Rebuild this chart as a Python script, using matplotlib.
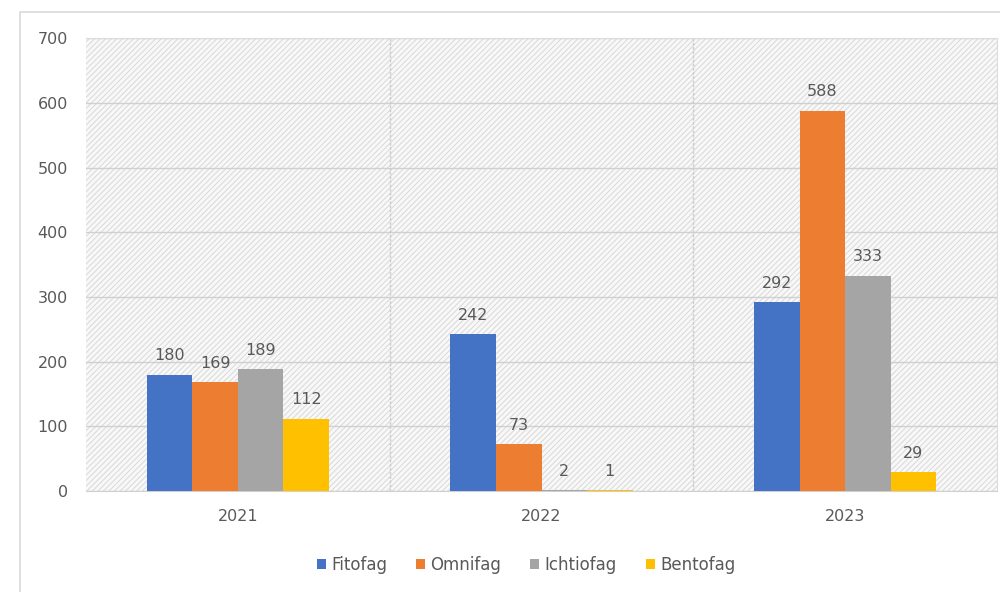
import matplotlib
matplotlib.use("Agg")
import matplotlib.pyplot as plt
from matplotlib.patches import Rectangle
import numpy as np

years = ["2021", "2022", "2023"]
series = ["Fitofag", "Omnifag", "Ichtiofag", "Bentofag"]
fitofag = [180, 242, 292]
omnifag = [169, 73, 588]
ichtiofag = [189, 2, 333]
bentofag = [112, 1, 29]
values = [fitofag, omnifag, ichtiofag, bentofag]
colors = ["#4472C4", "#ED7D31", "#A5A5A5", "#FFC000"]

plt.rcParams['font.family'] = ['DejaVu Sans']
plt.rcParams['hatch.linewidth'] = 0.7
plt.rcParams['hatch.color'] = '#d8d8d8'
txt = '#595959'

fig = plt.figure(figsize=(10, 5.92), dpi=100)
# outer chart border
fig.patches.append(Rectangle((0.020, -0.01), 1.0, 0.99, transform=fig.transFigure,
                             fill=False, edgecolor='#d9d9d9', linewidth=1.2))
ax = fig.add_axes([0.086, 0.1706, 0.911, 0.765])
ax.set_xlim(-0.5, 2.5)
ax.set_ylim(0, 700)

# hatched background
ax.add_patch(Rectangle((0, 0), 1, 1, transform=ax.transAxes, facecolor='#f8f8f8',
                       edgecolor='#d8d8d8', hatch='//////', linewidth=0, zorder=0))

ax.set_yticks(range(0, 701, 100))
ax.yaxis.grid(True, color='#d0d0d0', linewidth=1.0, zorder=1)
ax.set_axisbelow(True)
for xv in [0.5, 1.5]:
    ax.axvline(xv, color='#cccccc', linewidth=1.0, linestyle=(0, (2, 1)), zorder=1)

x = np.arange(len(years))
w = 0.15
offsets = [-1.5 * w, -0.5 * w, 0.5 * w, 1.5 * w]
for s, vals, c, off in zip(series, values, colors, offsets):
    bars = ax.bar(x + off, vals, width=w, color=c, label=s, zorder=3)
    for b, v in zip(bars, vals):
        ax.annotate(str(v), (b.get_x() + b.get_width() / 2, v), xytext=(0, 8),
                    textcoords='offset points', ha='center', va='bottom',
                    fontsize=11.5, color=txt, zorder=4)

ax.set_xticks(x)
ax.set_xticklabels(years)
ax.spines['left'].set_visible(False)
ax.spines['bottom'].set_color('#d0d0d0')
ax.spines['top'].set_color('#dcdcdc')
ax.spines['right'].set_color('#dcdcdc')
ax.tick_params(axis='both', length=0, labelsize=11.5, colors=txt)
ax.tick_params(axis='y', pad=13)
ax.tick_params(axis='x', pad=13)

leg = fig.legend(loc='center', bbox_to_anchor=(0.526, 0.046), ncol=4, frameon=False,
                 fontsize=12, handlelength=0.55, handleheight=0.55, handletextpad=0.3,
                 columnspacing=1.75, labelcolor=txt)

fig.savefig("out.png", dpi=100)
